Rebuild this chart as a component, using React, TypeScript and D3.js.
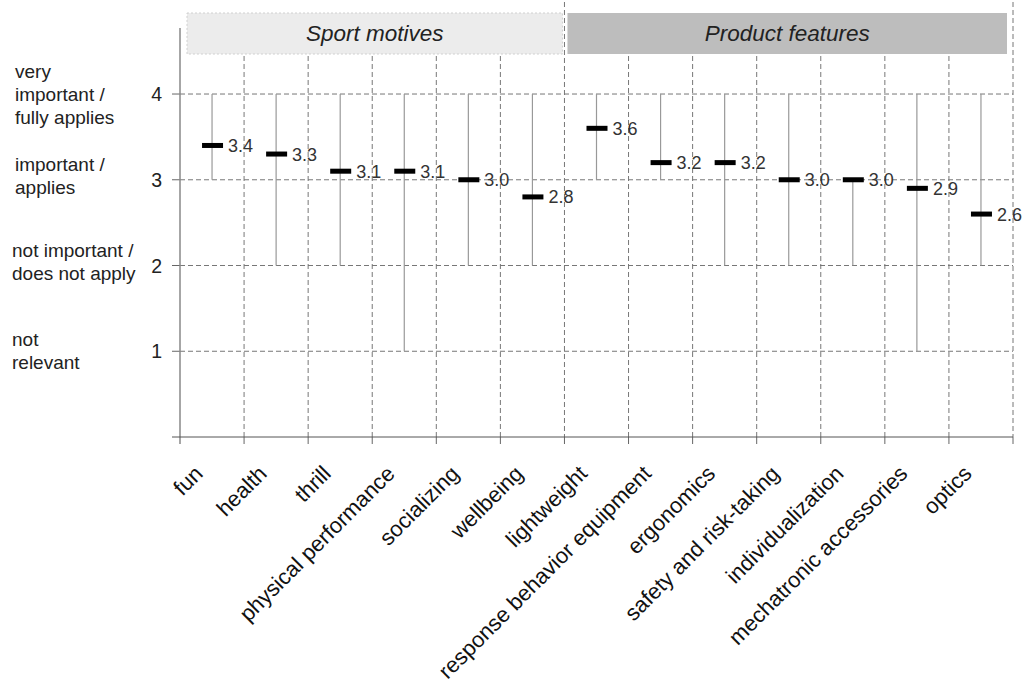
import React, { useEffect, useRef } from 'react';
import { select, scaleBand, scaleLinear } from 'd3';

const categories = [
  'fun', 'health', 'thrill', 'physical performance', 'socializing', 'wellbeing',
  'lightweight', 'response behavior equipment', 'ergonomics', 'safety and risk-taking',
  'individualization', 'mechatronic accessories', 'optics'
];
const means = [3.4, 3.3, 3.1, 3.1, 3.0, 2.8, 3.6, 3.2, 3.2, 3.0, 3.0, 2.9, 2.6];
const mins = [3, 2, 2, 1, 2, 2, 3, 3, 2, 2, 2, 1, 2];
const maxs = [4, 4, 4, 4, 4, 4, 4, 4, 4, 4, 3, 4, 4];
const yTicks = [1, 2, 3, 4];
const yTickLabels = [
  ['not', 'relevant'],
  ['not important /', 'does not apply'],
  ['important /', 'applies'],
  ['very', 'important /', 'fully applies']
];
const groups = [
  { name: 'Sport motives', from: 0, to: 5, fill: '#ececec' },
  { name: 'Product features', from: 6, to: 12, fill: '#bdbdbd' }
];

const FONT = '"Liberation Sans", Arial, sans-serif';

export default function App() {
  const ref = useRef<SVGSVGElement>(null);

  useEffect(() => {
    const svg = select(ref.current);
    svg.selectAll('*').remove();

    const x = scaleBand().domain(categories).range([180, 1013]).padding(0);
    const y = scaleLinear().domain([0, 4.77]).range([437, 28]);
    const bw = x.bandwidth();

    // group header boxes
    groups.forEach((g, i) => {
      const x0 = x(categories[g.from]) + (i === 0 ? 7 : 3);
      const x1 = x(categories[g.to]) + bw - (i === 0 ? 2 : 6);
      svg.append('rect')
        .attr('x', x0).attr('y', 13)
        .attr('width', x1 - x0).attr('height', 41)
        .attr('fill', g.fill)
        .attr('stroke', i === 0 ? '#d0d0d0' : 'none')
        .attr('stroke-dasharray', '2,2');
      svg.append('text')
        .attr('x', (x0 + x1) / 2).attr('y', 41)
        .attr('text-anchor', 'middle')
        .attr('font-family', FONT).attr('font-style', 'italic')
        .attr('font-size', 22.5).attr('fill', '#222')
        .text(g.name);
    });

    // vertical dashed separators
    categories.forEach((c, i) => {
      const xv = x(c) + bw;
      const tall = i === 5 || i === 12;
      svg.append('line')
        .attr('x1', xv).attr('x2', xv)
        .attr('y1', tall ? 2 : 56).attr('y2', y(0))
        .attr('stroke', '#777').attr('stroke-width', 1)
        .attr('stroke-dasharray', '5,3');
      svg.append('line')
        .attr('x1', xv).attr('x2', xv)
        .attr('y1', y(0)).attr('y2', y(0) + 7)
        .attr('stroke', '#666');
    });

    // horizontal dashed gridlines + y labels
    yTicks.forEach(t => {
      svg.append('line')
        .attr('x1', 180).attr('x2', 1013)
        .attr('y1', y(t)).attr('y2', y(t))
        .attr('stroke', '#777').attr('stroke-width', 1)
        .attr('stroke-dasharray', '5,3');
      svg.append('line')
        .attr('x1', 172).attr('x2', 180)
        .attr('y1', y(t)).attr('y2', y(t))
        .attr('stroke', '#666');
      svg.append('text')
        .attr('x', 162).attr('y', y(t) + 7)
        .attr('text-anchor', 'end')
        .attr('font-family', FONT).attr('font-size', 19.5).attr('fill', '#222')
        .text(t);
      const lines = yTickLabels[t - 1];
      const lh = 23;
      const shift = t === 4 ? 7 : t === 1 ? 6 : 3;
      const top = y(t) - ((lines.length - 1) * lh) / 2 + shift;
      lines.forEach((l, k) => {
        svg.append('text')
          .attr('x', t <= 2 ? 12 : 15).attr('y', top + k * lh)
          .attr('font-family', FONT).attr('font-size', 19).attr('fill', '#222')
          .text(l);
      });
    });

    // axes lines
    svg.append('line')
      .attr('x1', 180).attr('x2', 180)
      .attr('y1', y(4.77)).attr('y2', y(0) + 7)
      .attr('stroke', '#888').attr('stroke-width', 1.5);
    svg.append('line')
      .attr('x1', 172).attr('x2', 1013)
      .attr('y1', y(0)).attr('y2', y(0))
      .attr('stroke', '#555').attr('stroke-width', 1);

    // ranges, means, labels
    categories.forEach((c, i) => {
      const cx = x(c) + bw / 2;
      svg.append('line')
        .attr('x1', cx).attr('x2', cx)
        .attr('y1', y(mins[i])).attr('y2', y(maxs[i]))
        .attr('stroke', '#999').attr('stroke-width', 1.2);
      svg.append('rect')
        .attr('x', cx - 10).attr('y', y(means[i]) - 2.5)
        .attr('width', 21).attr('height', 5)
        .attr('fill', '#000');
      svg.append('text')
        .attr('x', cx + 16).attr('y', y(means[i]) + 6.5)
        .attr('font-family', FONT).attr('font-size', 18).attr('fill', '#333')
        .text(means[i].toFixed(1));
      svg.append('text')
        .attr('transform', `translate(${cx - 8},${y(0) + 38}) rotate(-45)`)
        .attr('text-anchor', 'end')
        .attr('font-family', FONT).attr('font-size', 22).attr('fill', '#111')
        .text(c);
    });
  }, []);

  return (
    <svg ref={ref} width={1023} height={686}
      style={{ position: 'absolute', left: 0, top: 0, background: '#fff' }} />
  );
}
